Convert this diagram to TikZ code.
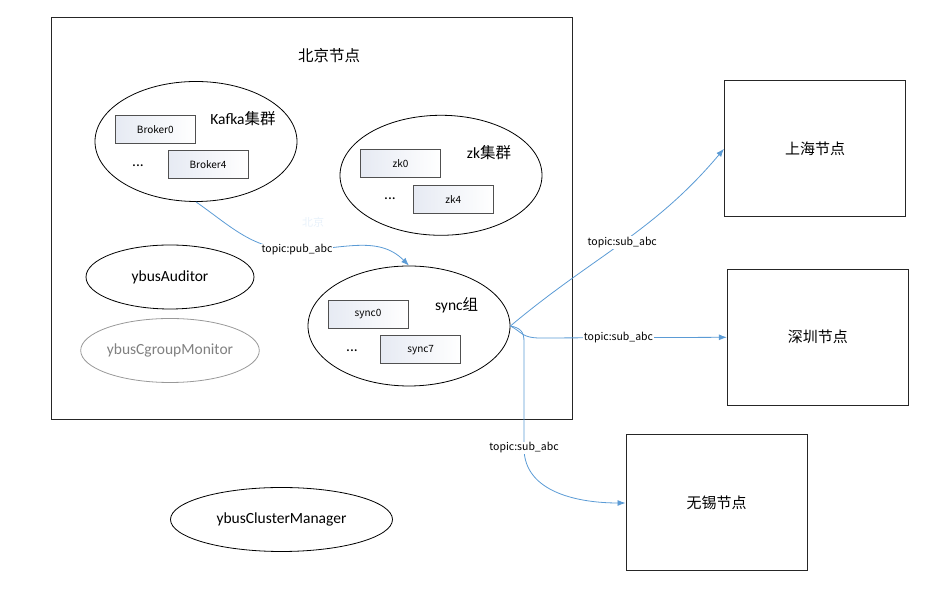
\documentclass[tikz,border=0pt]{standalone}
\usepackage{fontspec}
\setmainfont{Carlito}
\newfontfamily\cjk{Noto Sans CJK SC}
\usetikzlibrary{shapes.geometric,arrows.meta}
\definecolor{linkblue}{RGB}{91,155,213}
\definecolor{boxgray}{RGB}{80,80,80}
\definecolor{boxfill}{RGB}{230,234,243}
\definecolor{monigray}{RGB}{128,128,128}
\definecolor{faintblue}{RGB}{232,241,250}

\begin{document}
\begin{tikzpicture}[x=1pt,y=1pt]
        \tikzstyle{every node}=[inner sep=0pt]
        \tikzstyle{site}=[draw=black!85,line width=1pt,minimum width=181pt,minimum height=136pt,font=\cjk\fontsize{15}{18}\selectfont]
        \tikzstyle{cloud}=[draw,ellipse,line width=0.8pt,minimum width=202pt,minimum height=120pt]
        \tikzstyle{app}=[draw,ellipse,line width=0.8pt,minimum width=168pt,minimum height=64pt,font=\fontsize{15.5}{18}\selectfont]
        \tikzstyle{inst}=[draw=boxgray,line width=1pt,minimum width=80pt,minimum height=28pt,left color=boxfill,right color=white,font=\cjk\fontsize{10}{12}\selectfont]
        \tikzstyle{title}=[font=\fontsize{15.5}{18}\selectfont]
        \tikzstyle{tag}=[fill=white,inner sep=1pt,font=\cjk\fontsize{10.5}{12}\selectfont]
        \tikzstyle{link}=[draw=linkblue,line width=0.8pt,-{Latex[length=8pt,width=6pt]}]
            \useasboundingbox (0,0) rectangle (946,604);

            % Beijing site
            \node[draw=black!85,line width=1pt,minimum width=521pt,minimum height=402pt] (bj) at (311.5,385) {};
            \node[title] (bjt) at (329,548) {\cjk 北京节点};
            \node[text=faintblue,font=\cjk\fontsize{11}{13}\selectfont] (bjghost) at (313,382) {北京};

            \node[cloud] (kafka) at (196,462.5) {};
            \node[title] (kafkat) at (243,485) {Kafka{\cjk 集群}};
            \node[inst] (b0) at (155.3,474.8) {Broker0};
            \node[inst] (b4) at (208,439) {Broker4};
            \node[title] (kdots) at (138,438) {...};

            \node[cloud] (zk) at (441,428.7) {};
            \node[title] (zkt) at (489,451.3) {zk{\cjk 集群}};
            \node[inst] (zk0) at (400.5,440.8) {zk0};
            \node[inst] (zk4) at (453.2,404.8) {zk4};
            \node[title] (zdots) at (390,405) {...};

            \node[cloud] (sync) at (409,278) {};
            \node[title] (synct) at (456.7,299) {sync{\cjk 组}};
            \node[inst] (s0) at (368,289.8) {sync0};
            \node[inst] (s7) at (420.7,254.2) {sync7};
            \node[title] (sdots) at (352,253) {...};

            \node[app] (aud) at (170,327) {ybusAuditor};
            \node[app,draw=monigray!80,text=monigray] (mon) at (170,253.5) {ybusCgroupMonitor};
            \node[app,minimum width=222pt] (mgr) at (281.5,84.5) {ybusClusterManager};

            % other sites
            \node[site] (sh) at (815,455.2) {上海节点};
            \node[site] (sz) at (817.8,266.7) {深圳节点};
            \node[site] (wx) at (716.5,101) {无锡节点};

            \coordinate (pubmid) at (297,354);
            \coordinate (szturn) at (540,266);
            \coordinate (wxtop) at (524,262);
            \coordinate (wxmid) at (524,156);

            \draw[link] (kafka.south) to[out=-35,in=180] (pubmid) node[tag]{topic:pub\_abc} to[out=0,in=135] (sync.north);
            \draw[link] (sync.east) to[out=40,in=230] node[tag]{topic:sub\_abc} (sh.west);
            \draw[link] (sync.east) .. controls (522,272) and (522,266) .. (szturn) -- node[tag,pos=0.42]{topic:sub\_abc} (sz.west);
            \draw[link] (sync.east) .. controls (521,276) and (524,272) .. (wxtop) -- (wxmid) node[tag]{topic:sub\_abc} to[out=-90,in=180] (wx.west);
        \end{tikzpicture}
\end{document}
